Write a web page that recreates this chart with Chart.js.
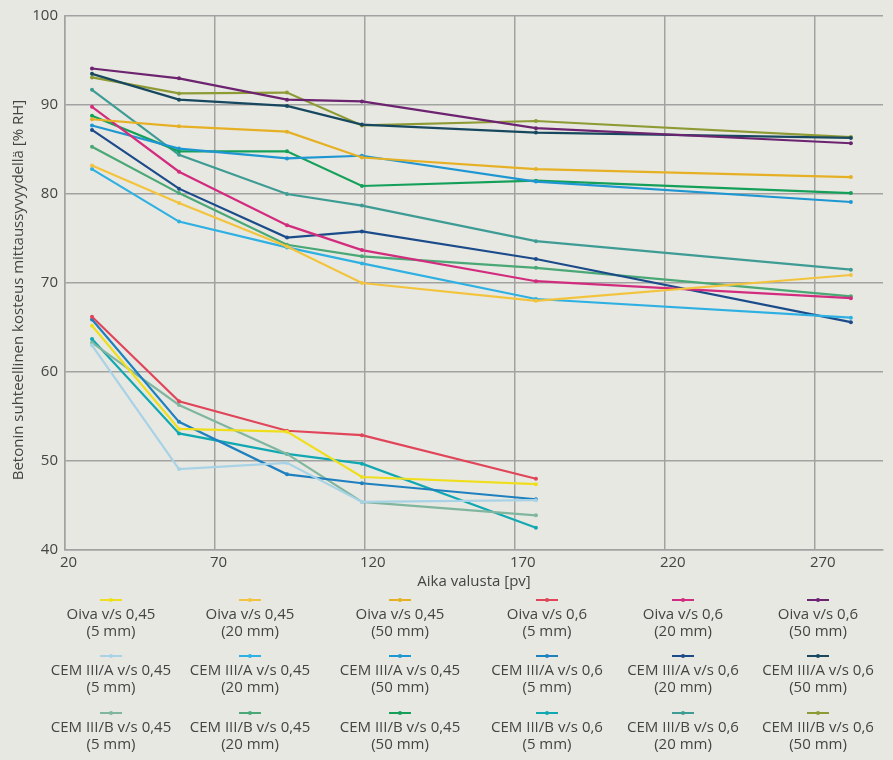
<!DOCTYPE html>
<html>
<head>
<meta charset="utf-8">
<script src="https://cdn.jsdelivr.net/npm/chart.js@4.4.1/dist/chart.umd.min.js"></script>
<style>
  html, body { margin: 0; padding: 0; background: #e8e8e2; }
  #wrap { width: 893px; height: 760px; }
</style>
</head>
<body>
<div id="wrap"><canvas id="c" width="893" height="760"></canvas></div>
<script>
// Measurement days after casting
const days = [29, 58, 94, 119, 177, 282];
const xTicks = [20, 70, 120, 170, 220, 270];
const yTicks = [40, 50, 60, 70, 80, 90, 100];

// Relative humidity [% RH] at measurement depth
const oiva045_5   = [65.2, 53.6, 53.3, 48.2, 47.4];
const oiva045_20  = [83.2, 79.0, 74.1, 70.0, 68.0, 70.9];
const oiva045_50  = [88.4, 87.6, 87.0, 84.1, 82.8, 81.9];
const oiva06_5    = [66.2, 56.7, 53.4, 52.9, 48.0];
const oiva06_20   = [89.8, 82.5, 76.5, 73.7, 70.2, 68.3];
const oiva06_50   = [94.1, 93.0, 90.6, 90.4, 87.4, 85.7];
const cemA045_5   = [63.0, 49.1, 49.8, 45.4, 45.6];
const cemA045_20  = [82.8, 76.9, 74.0, 72.2, 68.2, 66.1];
const cemA045_50  = [87.7, 85.1, 84.0, 84.3, 81.4, 79.1];
const cemA06_5    = [65.9, 54.4, 48.5, 47.5, 45.7];
const cemA06_20   = [87.2, 80.6, 75.1, 75.8, 72.7, 65.6];
const cemA06_50   = [93.5, 90.6, 89.9, 87.8, 86.9, 86.3];
const cemB045_5   = [63.3, 56.3, 50.8, 45.4, 43.9];
const cemB045_20  = [85.3, 80.1, 74.3, 73.0, 71.7, 68.5];
const cemB045_50  = [88.8, 84.8, 84.8, 80.9, 81.5, 80.1];
const cemB06_5    = [63.7, 53.1, 50.8, 49.7, 42.5];
const cemB06_20   = [91.7, 84.4, 80.0, 78.7, 74.7, 71.5];
const cemB06_50   = [93.1, 91.3, 91.4, 87.7, 88.2, 86.4];

const mixes  = ['Oiva', 'CEM III/A', 'CEM III/B'];
const ratios = ['0,45', '0,6'];
const depths = ['5 mm', '20 mm', '50 mm'];

const xTitle = 'Aika valusta [pv]';
const yTitle = 'Betonin suhteellinen kosteus mittaussyvyydellä [% RH]';

const seriesValues = [
  oiva045_5, oiva045_20, oiva045_50, oiva06_5, oiva06_20, oiva06_50,
  cemA045_5, cemA045_20, cemA045_50, cemA06_5, cemA06_20, cemA06_50,
  cemB045_5, cemB045_20, cemB045_50, cemB06_5, cemB06_20, cemB06_50
];

const colors = [
  '#efde1c', '#f2c43e', '#e6b024', '#e0455a', '#d22c7e', '#6c2470',
  '#a8d2e6', '#2fb0e2', '#1e96d2', '#1f80c0', '#1b4b8a', '#17485f',
  '#80b69f', '#4aa876', '#15a05a', '#12a8b2', '#3e9c94', '#8e9b35'
];

const TEXT = '#444444';
const GRID = '#a2a2a2';
const FONT = "'Open Sans', 'DejaVu Sans', sans-serif";
const FONT_SIZE = 15;

const datasets = seriesValues.map((vals, i) => {
  const mix = mixes[Math.floor(i / 6)];
  const ratio = ratios[Math.floor((i % 6) / 3)];
  const depth = depths[i % 3];
  return {
    label: mix + ' v/s ' + ratio + ' (' + depth + ')',
    line1: mix + ' v/s ' + ratio,
    line2: '(' + depth + ')',
    data: vals.map((v, k) => ({ x: days[k], y: v })),
    borderColor: colors[i],
    backgroundColor: colors[i],
    borderWidth: 2.2,
    pointRadius: 2,
    pointBorderWidth: 0,
    pointHoverRadius: 2,
    tension: 0
  };
});

// Two-line legend items in a 6 x 3 grid below the plot
const legendCols = [111, 250, 400, 547, 683, 818];
const legendRows = [600, 656, 713];

const bgPlugin = {
  id: 'bg',
  beforeDraw(chart) {
    const ctx = chart.ctx;
    ctx.save();
    ctx.fillStyle = '#e8e8e2';
    ctx.fillRect(0, 0, chart.width, chart.height);
    ctx.restore();
  }
};

// Rotated y-axis title, placed a little below the plot's vertical centre
const yTitlePlugin = {
  id: 'yTitle',
  afterDraw(chart) {
    const ctx = chart.ctx;
    ctx.save();
    ctx.translate(19, 290);
    ctx.rotate(-Math.PI / 2);
    ctx.fillStyle = TEXT;
    ctx.font = FONT_SIZE + 'px ' + FONT;
    ctx.textAlign = 'center';
    ctx.textBaseline = 'middle';
    ctx.fillText(yTitle, 0, 0);
    ctx.restore();
  }
};

const gridLegend = {
  id: 'gridLegend',
  afterDraw(chart) {
    const ctx = chart.ctx;
    ctx.save();
    chart.data.datasets.forEach((ds, i) => {
      const cx = legendCols[i % 6];
      const y = legendRows[Math.floor(i / 6)];
      ctx.strokeStyle = ds.borderColor;
      ctx.lineWidth = 2;
      ctx.beginPath();
      ctx.moveTo(cx - 11, y);
      ctx.lineTo(cx + 11, y);
      ctx.stroke();
      ctx.fillStyle = ds.borderColor;
      ctx.beginPath();
      ctx.arc(cx, y, 2, 0, Math.PI * 2);
      ctx.fill();
      ctx.fillStyle = TEXT;
      ctx.font = FONT_SIZE + 'px ' + FONT;
      ctx.textAlign = 'center';
      ctx.textBaseline = 'middle';
      ctx.fillText(ds.line1, cx, y + 15);
      ctx.fillText(ds.line2, cx, y + 32);
    });
    ctx.restore();
  }
};

new Chart(document.getElementById('c'), {
  type: 'line',
  data: { datasets },
  options: {
    responsive: false,
    animation: false,
    events: [],
    layout: { padding: { left: 0, top: 14, right: 10, bottom: 165 } },
    plugins: { legend: { display: false }, tooltip: { enabled: false } },
    scales: {
      x: {
        type: 'linear',
        min: 20,
        max: 292.7,
        afterBuildTicks: s => { s.ticks = xTicks.map(v => ({ value: v })); },
        afterFit: s => { s.height = 45; },
        grid: { color: GRID, lineWidth: 1.5, drawTicks: false },
        border: { color: GRID, width: 1.5 },
        ticks: { color: TEXT, font: { family: FONT, size: FONT_SIZE }, padding: 4, align: 'start', labelOffset: -5, maxRotation: 0 },
        title: { display: true, text: xTitle, color: TEXT, font: { family: FONT, size: FONT_SIZE }, padding: { top: 0, bottom: 4 } }
      },
      y: {
        min: 40,
        max: 100,
        afterBuildTicks: s => { s.ticks = yTicks.map(v => ({ value: v })); },
        afterFit: s => { s.width = 65; },
        grid: { color: GRID, lineWidth: 1.5, drawTicks: false },
        border: { color: GRID, width: 1.5 },
        ticks: { color: TEXT, font: { family: FONT, size: FONT_SIZE }, padding: 7 },
        title: { display: false }
      }
    }
  },
  plugins: [bgPlugin, yTitlePlugin, gridLegend]
});
</script>
</body>
</html>
